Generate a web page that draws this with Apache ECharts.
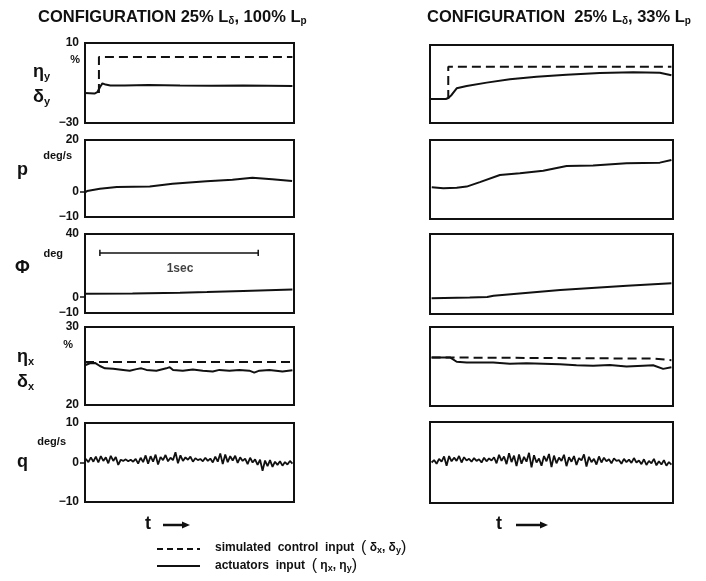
<!DOCTYPE html>
<html><head><meta charset="utf-8">
<script src="https://cdn.jsdelivr.net/npm/echarts@6/dist/echarts.min.js"></script>
<style>html,body{margin:0;padding:0;background:#fff}#c{width:706px;height:581px}</style>
</head><body><div id="c"></div>
<script>
// ---------- DATA ----------
const tMaxL = 1.32, tMaxR = 1.53;
// Panel 1: eta_y (solid) / delta_y (dashed), %
const etaY_L = [[0,-15],[0.06,-15.3],[0.078,-14.6],[0.095,-12],[0.11,-10.2],[0.13,-10.8],[0.16,-11.2],[0.25,-11.2],[0.4,-11],[0.6,-11.3],[0.8,-11.4],[1.0,-11.3],[1.31,-11.5]];
const deltaY_L = [[0.088,-15],[0.088,3],[1.31,3]];
const etaY_R = [[0,-17.7],[0.1,-17.7],[0.115,-17.2],[0.136,-15.6],[0.168,-12.2],[0.231,-11.0],[0.357,-9.3],[0.503,-7.6],[0.671,-6.3],[0.859,-5.2],[1.069,-4.4],[1.279,-4.0],[1.447,-4.2],[1.52,-5.5]];
const deltaY_R = [[0.115,-17.7],[0.115,-1.1],[1.52,-1.2]];
// Panel 2: p, deg/s
const p_L = [[0,-0.4],[0.013,0.1],[0.094,1.0],[0.201,1.7],[0.409,1.9],[0.553,3.0],[0.767,3.9],[0.931,4.5],[1.057,5.3],[1.182,4.7],[1.308,4.0]];
const p_R = [[0.011,2.1],[0.084,1.7],[0.168,1.9],[0.231,2.3],[0.314,4.0],[0.44,6.7],[0.566,7.4],[0.713,8.3],[0.86,10.1],[1.027,10.3],[1.237,11.2],[1.447,11.4],[1.52,12.4]];
// Panel 3: Phi, deg
const phi_L = [[0,2.2],[0.3,2.3],[0.6,2.8],[0.77,3.3],[1.0,4.0],[1.31,4.9]];
const phi_R = [[0.01,-0.2],[0.25,0.3],[0.36,0.6],[0.4,1.4],[0.82,5.0],[1.24,7.7],[1.52,9.2]];
const scaleBar = [[0.094,28],[1.094,28]];
// Panel 4: eta_x (solid) / delta_x (dashed), %
const etaX_L = [[0,25.1],[0.031,25.35],[0.063,25.4],[0.094,25.0],[0.126,24.7],[0.178,24.65],[0.241,24.5],[0.283,24.4],[0.325,24.6],[0.356,24.7],[0.388,24.5],[0.451,24.4],[0.514,24.7],[0.535,24.85],[0.556,24.5],[0.618,24.4],[0.681,24.55],[0.744,24.4],[0.807,24.3],[0.849,24.5],[0.912,24.4],[0.975,24.5],[1.038,24.4],[1.069,24.15],[1.101,24.4],[1.164,24.5],[1.206,24.4],[1.247,24.3],[1.31,24.45]];
const deltaX_L = [[0,25.5],[1.31,25.5]];
const etaX_R = [[0.01,26.15],[0.126,26.15],[0.168,25.6],[0.231,25.5],[0.398,25.5],[0.503,25.35],[0.608,25.4],[0.713,25.35],[0.818,25.3],[0.922,25.15],[1.027,25.1],[1.132,25.2],[1.237,25.0],[1.342,25.1],[1.405,25.15],[1.468,24.7],[1.52,24.9]];
const deltaX_R = [[0.01,26.15],[1.40,26.0],[1.52,25.8]];
// Panel 5: q, deg/s (uniformly sampled)
const q_L = [0.3,0.9,0.1,1.3,0.2,1.5,0.0,1.6,0.4,1.3,
 -0.2,1.7,0.4,1.4,-0.6,0.7,0.4,0.8,0.3,0.7,
 0.2,0.9,-0.3,1.2,0.1,1.8,-0.3,1.6,0.2,2.0,
 -0.5,1.4,0.6,1.9,0.3,1.2,0.6,2.6,-0.2,1.8,
 0.4,1.3,0.7,1.5,0.2,1.1,0.6,0.9,0.3,1.2,
 0.4,1.0,0.0,1.5,0.2,2.3,-0.4,2.0,0.1,1.6,
 0.5,1.7,-0.1,1.3,0.4,1.0,-0.4,1.2,0.0,0.8,
 -0.6,0.7,-2.1,0.5,-0.9,0.6,-1.1,0.2,-0.6,0.3,
 -0.8,0.1,-0.5,0.4,-0.3];
const q_R = [0.0,0.6,-0.3,0.9,0.2,1.5,-0.8,1.6,0.3,1.2,
 0.4,1.6,0.0,1.3,0.5,0.9,0.2,1.1,0.4,0.8,
 0.0,1.2,0.3,1.0,0.5,1.3,-0.2,1.9,0.4,1.5,
 -0.4,2.3,0.1,1.7,-0.9,2.0,-0.3,1.4,0.2,2.4,
 -1.2,1.8,0.0,1.0,-0.8,1.6,0.3,2.1,-1.1,1.7,
 -0.2,1.2,0.4,1.9,-0.9,1.3,0.2,1.6,-0.6,1.1,
 0.5,2.0,-1.0,1.4,0.1,0.9,-0.5,1.5,0.0,1.2,
 0.3,0.8,-0.2,1.0,0.4,0.6,-0.3,0.9,0.1,0.7,
 -0.1,1.1,0.0,0.5,-0.4,0.8,-0.6,0.4,-0.2,0.9,
 -0.7,0.3,-0.5,0.6,-0.8,0.1,-0.5];
const qEndL = 1.31, qStartL = -0.01, qStartR = 0.01, qEndR = 1.52;
// axis ranges and tick labels
const yMin = [-30,-10,-10,20,-10];
const yMax = [10,20,40,30,10];
const yLabels = [[-30,10],[-10,0,20],[-10,0,40],[20,30],[-10,0,10]];
const yTicks = [[],[0],[0],[],[0]];

// ---------- LAYOUT ----------
const FONT = 'Liberation Sans';
const gL = [[43,80],[140,77],[234,79],[327,78],[423,79]];
const gR = [[45,78],[140,79],[234,80],[327,79],[422,81]];
const grids = [], xAxes = [], yAxes = [], series = [];
for (let i = 0; i < 5; i++) {
  grids.push({left:85, width:209, top:gL[i][0], height:gL[i][1], show:true, borderColor:'#111', borderWidth:2, backgroundColor:'transparent'});
  grids.push({left:430, width:243, top:gR[i][0], height:gR[i][1], show:true, borderColor:'#111', borderWidth:2, backgroundColor:'transparent'});
}
for (let g = 0; g < 10; g++) {
  const row = Math.floor(g/2), left = g % 2 === 0;
  xAxes.push({type:'value', gridIndex:g, min:0, max:left?tMaxL:tMaxR, show:false});
  yAxes.push({type:'value', gridIndex:g, min:yMin[row], max:yMax[row],
    axisLine:{show:false}, splitLine:{show:false},
    axisTick:{show:left, length:5, lineStyle:{color:'#111',width:1.5}, customValues:yTicks[row]},
    axisLabel:{show:left, customValues:yLabels[row], margin:6, color:'#111', fontFamily:FONT, fontWeight:'bold', fontSize:12,
      formatter: v => (v<0 ? '\u2212' + Math.abs(v) : String(v))}});
}
function line(g, data, dashed, w) {
  series.push({type:'line', xAxisIndex:g, yAxisIndex:g, data:data, symbol:'none', silent:true, animation:false,
    lineStyle:{color:'#111', width:w||2, type: dashed ? [9,5] : 'solid'}});
}
function uniform(vals, t0, t1) {
  const dt = (t1 - t0) / (vals.length - 1);
  return vals.map((v,i) => [t0 + i*dt, v]);
}
line(0, etaY_L, false); line(0, deltaY_L, true);
line(1, etaY_R, false); line(1, deltaY_R, true);
line(2, p_L, false); line(3, p_R, false);
line(4, phi_L, false); line(5, phi_R, false);
line(4, scaleBar, false, 1.5);
line(4, [[scaleBar[0][0],26],[scaleBar[0][0],30]], false, 1.5);
line(4, [[scaleBar[1][0],26],[scaleBar[1][0],30]], false, 1.5);
series.push({type:'scatter', xAxisIndex:4, yAxisIndex:4, data:[[0.6,18]], symbolSize:0, silent:true, animation:false,
  label:{show:true, position:'inside', formatter:'1sec', color:'#111', fontFamily:FONT, fontWeight:'bold', fontSize:12}});
line(6, etaX_L, false); line(6, deltaX_L, true);
line(7, etaX_R, false); line(7, deltaX_R, true);
line(8, uniform(q_L, qStartL, qEndL), false, 1.8);
line(9, uniform(q_R, qStartR, qEndR), false, 1.8);

// ---------- TEXT ----------
const rich = {
  b:{fontFamily:FONT, fontWeight:'bold', fontSize:16.5, fill:'#111', color:'#111'},
  s:{fontFamily:FONT, fontWeight:'bold', fontSize:10, fill:'#111', color:'#111', padding:[9,0,0,0]},
  g:{fontFamily:FONT, fontWeight:'bold', fontSize:18, fill:'#111', color:'#111'},
  gs:{fontFamily:FONT, fontWeight:'bold', fontSize:11, fill:'#111', color:'#111', padding:[9,0,0,0]},
  u:{fontFamily:FONT, fontWeight:'bold', fontSize:11, fill:'#111', color:'#111'},
  l:{fontFamily:FONT, fontWeight:'bold', fontSize:12, fill:'#111', color:'#111'},
  ls:{fontFamily:FONT, fontWeight:'bold', fontSize:9, fill:'#111', color:'#111', padding:[6,0,0,0]},
  lp:{fontFamily:FONT, fontSize:16, fill:'#111', color:'#111'}
};
function txt(x, y, text, align) {
  return {type:'text', x:x, y:y, silent:true, style:{text:text, rich:rich, align:align||'left', verticalAlign:'middle', fill:'#111'}};
}
function hline(x1, x2, y, dash, w) {
  return {type:'line', silent:true, shape:{x1:x1,y1:y,x2:x2,y2:y}, style:{stroke:'#111', lineWidth:w||1.5, lineDash: dash||null}};
}
function arrow(x1, x2, y) {
  return [hline(x1, x2-5, y, null, 2.5),
    {type:'polygon', silent:true, shape:{points:[[x2-8,y-3.5],[x2,y],[x2-8,y+3.5]]}, style:{fill:'#111'}}];
}
const graphics = [
  txt(38, 17, '{b|CONFIGURATION 25% L}{s|δ}{b|, 100% L}{s|p}'),
  txt(427, 17, '{b|CONFIGURATION  25% L}{s|δ}{b|, 33% L}{s|p}'),
  txt(33, 72, '{g|η}{gs|y}'), txt(33, 97, '{g|δ}{gs|y}'),
  txt(17, 170, '{g|p}'), txt(15, 268, '{g|Φ}'),
  txt(17, 357, '{g|η}{gs|x}'), txt(17, 382, '{g|δ}{gs|x}'),
  txt(17, 462, '{g|q}'),
  txt(80, 60, '{u|%}', 'right'), txt(72, 156, '{u|deg/s}', 'right'),
  txt(63, 254, '{u|deg}', 'right'), txt(73, 345, '{u|%}', 'right'),
  txt(66, 442, '{u|deg/s}', 'right'),
  txt(145, 524, '{g|t}'), txt(496, 524, '{g|t}'),
  hline(157, 200, 549, [6,4], 1.8),
  hline(157, 200, 566, null, 1.8),
  txt(215, 548, '{l|simulated  control  input  }{lp|(}{l| δ}{ls|x}{l|, δ}{ls|y}{lp|)}'),
  txt(215, 566, '{l|actuators  input  }{lp|(}{l| η}{ls|x}{l|, η}{ls|y}{lp|)}')
].concat(arrow(163, 190, 525), arrow(516, 548, 525));

const chart = echarts.init(document.getElementById('c'), null, {renderer:'canvas'});
chart.setOption({animation:false, backgroundColor:'#fff', grid:grids, xAxis:xAxes, yAxis:yAxes, series:series, graphic:graphics});
</script></body></html>
